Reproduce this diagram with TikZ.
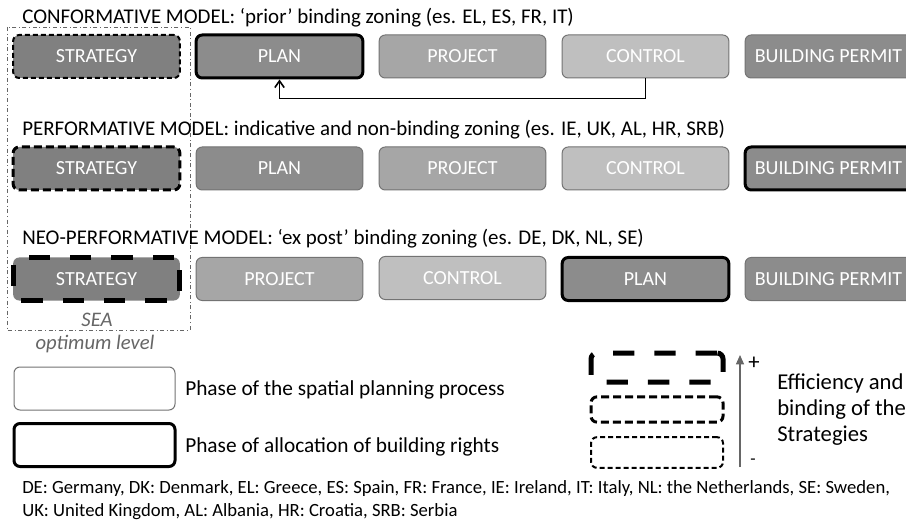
\documentclass[tikz,border=0pt]{standalone}
\usepackage{fontspec}
\setmainfont{Carlito}
\usetikzlibrary{positioning,arrows.meta}

\definecolor{strategyColor}{gray}{0.50}
\definecolor{planColor}{gray}{0.55}
\definecolor{projectColor}{gray}{0.65}
\definecolor{controlColor}{gray}{0.75}
\definecolor{borderColor}{gray}{0.45}
\definecolor{noteColor}{gray}{0.40}

\tikzset{
  phase/.style={rounded corners=4.5pt, minimum width=125pt, minimum height=32.25pt,
    inner sep=0pt, draw=borderColor, line width=0.75pt, text=white,
    font=\fontsize{15}{17}\selectfont},
  rights/.style={phase, draw=black, line width=2.25pt},
  weakStrat/.style={phase, draw=black, line width=1.5pt, dash pattern=on 3.75pt off 2.25pt},
  midStrat/.style={phase, draw=black, line width=2.25pt, dash pattern=on 6pt off 3pt},
  strongStrat/.style={phase, draw=black, line width=3.75pt, dash pattern=on 16pt off 15pt},
  title/.style={anchor=west, inner sep=0pt, font=\fontsize{15.7}{18}\selectfont},
  legendText/.style={anchor=west, inner sep=0pt, align=left, font=\fontsize{16}{19}\selectfont},
}

\begin{document}
\begin{tikzpicture}[x=0.75pt,y=-0.75pt]
\path[use as bounding box,fill=white] (0,0) rectangle (906,520);

% optimum level frame
\draw[noteColor, line width=0.6pt, dash dot] (7,27) rectangle (190,330);

% conformative model
\node[title] (titleA) at (22,18) {CONFORMATIVE MODEL: ‘prior’ binding zoning (es. EL, ES, FR, IT)};
\node[weakStrat, fill=strategyColor] (stratA) at (96.5,56.5) {STRATEGY};
\node[rights, fill=planColor] (planA) at (279.5,56.5) {PLAN};
\node[phase, fill=projectColor] (projA) at (462.5,56.5) {PROJECT};
\node[phase, fill=controlColor] (ctrlA) at (645.5,56.5) {CONTROL};
\node[phase, fill=planColor] (permA) at (828.5,56.5) {BUILDING PERMIT};
\draw[line width=1.2pt, -{Straight Barb[length=5pt,width=7pt]}] (ctrlA.south) -- ++(0,20) -| (planA.south);

% performative model
\node[title] (titleB) at (22,130) {PERFORMATIVE MODEL: indicative and non-binding zoning (es. IE, UK, AL, HR, SRB)};
\node[midStrat, fill=strategyColor] (stratB) at (96.5,168.5) {STRATEGY};
\node[phase, fill=planColor] (planB) at (279.5,168.5) {PLAN};
\node[phase, fill=projectColor] (projB) at (462.5,168.5) {PROJECT};
\node[phase, fill=controlColor] (ctrlB) at (645.5,168.5) {CONTROL};
\node[rights, fill=planColor] (permB) at (828.5,168.5) {BUILDING PERMIT};

% neo-performative model
\node[title] (titleC) at (22,239) {NEO-PERFORMATIVE MODEL: ‘ex post’ binding zoning (es. DE, DK, NL, SE)};
\node[strongStrat, fill=strategyColor] (stratC) at (96.5,279) {STRATEGY};
\node[phase, fill=projectColor] (projC) at (279.5,279) {PROJECT};
\node[phase, fill=controlColor] (ctrlC) at (462.5,278) {CONTROL};
\node[rights, fill=planColor] (planC) at (645.5,279) {PLAN};
\node[phase, fill=planColor] (permC) at (828.5,279) {BUILDING PERMIT};

\node[text=noteColor, font=\fontsize{15.5}{17}\selectfont\itshape] (seaTxt) at (97,320) {SEA};
\node[text=noteColor, font=\fontsize{15.5}{17}\selectfont\itshape] (optTxt) at (95,344) {optimum level};

% legend, phases
\node[phase, fill=white, minimum width=120.75pt] (legPhase) at (94.5,388.5) {};
\node[legendText] (legPhaseTxt) at (185,390) {Phase of the spatial planning process};
\node[rights, fill=white, minimum width=120.75pt] (legRights) at (94.5,445) {};
\node[legendText] (legRightsTxt) at (185,447) {Phase of allocation of building rights};

% legend, strategies
\node[strongStrat, minimum width=99pt, minimum height=21.75pt] (legStrong) at (657,367.5) {};
\node[midStrat, minimum width=99pt, minimum height=19pt] (legMid) at (657,409.5) {};
\node[weakStrat, minimum width=99pt, minimum height=23pt] (legWeak) at (657,452.5) {};
\coordinate (arrLow) at (740,467);
\coordinate (arrHigh) at (740,355);
\draw[noteColor, line width=0.8pt, -{Triangle[length=7pt,width=6pt]}] (arrLow) -- (arrHigh);
\node[font=\fontsize{17}{19}\selectfont] (plusTxt) at (754,363) {+};
\node[font=\fontsize{13}{15}\selectfont] (minusTxt) at (753,462) {-};
\node[legendText, font=\fontsize{17}{19.5}\selectfont] (effTxt) at (777,410) {Efficiency and\\binding of the\\Strategies};

% footer
\node[anchor=north west, inner sep=0pt, align=left, font=\fontsize{14}{17.25}\selectfont] (footTxt) at (22,480)
  {DE: Germany, DK: Denmark, EL: Greece, ES: Spain, FR: France, IE: Ireland, IT: Italy, NL: the Netherlands, SE: Sweden,\\
   UK: United Kingdom, AL: Albania, HR: Croatia, SRB: Serbia};
\end{tikzpicture}
\end{document}
